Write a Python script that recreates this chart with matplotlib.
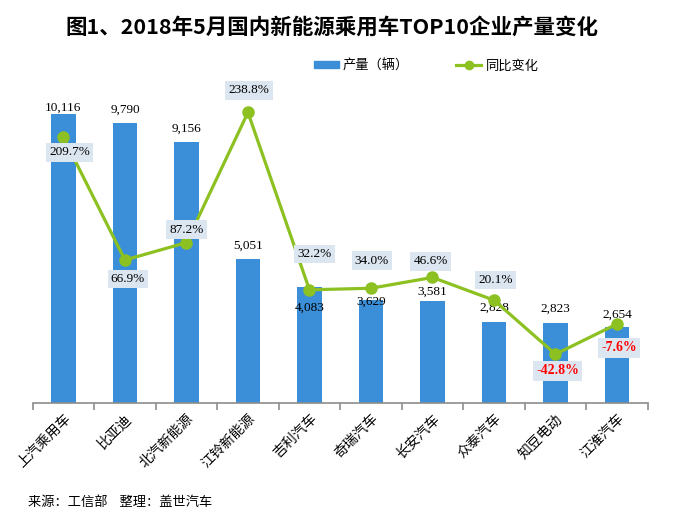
import numpy as np
import matplotlib.pyplot as plt
from matplotlib.patches import Patch
from matplotlib.lines import Line2D

plt.rcParams['font.family'] = ['Noto Sans CJK SC', 'DejaVu Sans']

# 数据
empresas = ['上汽乘用车', '比亚迪', '北汽新能源', '江铃新能源', '吉利汽车',
            '奇瑞汽车', '长安汽车', '众泰汽车', '知豆电动', '江淮汽车']
producao = [10116, 9790, 9156, 5051, 4083, 3629, 3581, 2828, 2823, 2654]
variacao = [209.7, 66.9, 87.2, 238.8, 32.2, 34.0, 46.6, 20.1, -42.8, -7.6]

# deslocamentos dos rótulos (px)
desl_barra = [6, 13.5, 13, 13, -21, -2, 9.6, 14.5, 13.6, 13]
desl_linha = [(6, -15), (3, -19), (0, 13), (1, 22), (5, 36), (1, 27.7),
              (-2, 16), (2, 20), (2, -16.7), (2, -24)]

azul = '#3a8fd8'
verde = '#8cc121'
serif = ['Liberation Serif', 'DejaVu Serif']

fig = plt.figure(figsize=(6.8, 5.24), dpi=100)
W, H = 680, 524
ax = fig.add_axes([32.7 / W, (H - 403.3) / H, 615 / W, 314.4 / H])
ax2 = ax.twinx()

x = np.arange(len(empresas))
ax.bar(x, producao, width=0.4, color=azul, zorder=2)
ax.set_xlim(-0.5, len(empresas) - 0.5)
ax.set_ylim(0, 11000)
ax2.set_ylim(-100, 266.2)

ax2.plot(x, variacao, color=verde, lw=2.3, marker='o', ms=8, zorder=3)

for s in ['top', 'left', 'right']:
    ax.spines[s].set_visible(False)
    ax2.spines[s].set_visible(False)
ax2.spines['bottom'].set_visible(False)
ax.spines['bottom'].set_color('#8c8c8c')
ax.spines['bottom'].set_linewidth(1.2)
ax.set_yticks([])
ax2.set_yticks([])

ax.set_xticks(x)
ax.set_xticklabels(empresas, rotation=45, ha='right', va='top',
                   rotation_mode='anchor', fontsize=10)
ax.tick_params(axis='x', length=0, pad=6)
ax.set_xticks(np.arange(len(empresas) + 1) - 0.5, minor=True)
ax.tick_params(axis='x', which='minor', length=5, color='#8c8c8c', width=1.2)

for i, v in enumerate(producao):
    ax.annotate(f'{v:,}', (x[i], v), xytext=(0, desl_barra[i] * 0.72),
                textcoords='offset points', ha='center', va='center',
                fontsize=9.5, family=serif, zorder=5)

for i, v in enumerate(variacao):
    neg = v < 0
    dx, dy = desl_linha[i]
    ax2.annotate(f'{v:.1f}%', (x[i], v), xytext=(dx * 0.72, dy * 0.72),
                 textcoords='offset points', ha='center', va='center',
                 fontsize=10 if neg else 9.5, family=serif,
                 color='#ff0000' if neg else 'black',
                 fontweight='bold' if neg else 'normal',
                 bbox=dict(boxstyle='square,pad=0.25', fc='#dce6f1', ec='none'),
                 zorder=6)

fig.text(332 / W, 1 - 27 / H, '图1、2018年5月国内新能源乘用车TOP10企业产量变化',
         ha='center', va='center', fontsize=15.5, fontweight='bold')

handles = [Patch(color=azul),
           Line2D([0], [0], color=verde, lw=2.3, marker='o', ms=6)]
fig.legend(handles, ['产量（辆）', '同比变化'], ncol=2, frameon=False,
           loc='center', bbox_to_anchor=(426 / W, 1 - 66 / H), fontsize=9.5,
           handlelength=1.9, handleheight=0.45, columnspacing=3.6,
           handletextpad=0.3)

fig.text(28 / W, 1 - 502 / H, '来源：工信部    整理：盖世汽车',
         ha='left', va='center', fontsize=9.5)

fig.savefig('out.png', dpi=100)
